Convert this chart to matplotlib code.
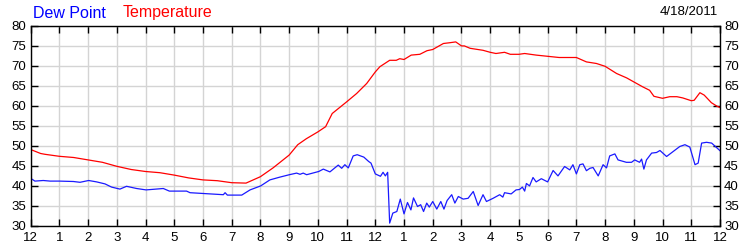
import numpy as np
import matplotlib.pyplot as plt

plt.rcParams['font.family'] = ['Liberation Sans', 'DejaVu Sans']

# hours after midnight, temperature (F)
temp_hours = [0, 0.35, 0.5, 1, 1.5, 2, 2.5, 3, 3.5, 4, 4.5, 5, 5.5, 6, 6.5, 7, 7.5,
              8, 8.44, 9, 9.3, 9.6, 10, 10.27, 10.5, 11, 11.35, 11.7, 12, 12.16,
              12.5, 12.73, 12.85, 13, 13.25, 13.55, 13.8, 14, 14.37, 14.6, 14.8,
              15, 15.1, 15.3, 15.75, 16, 16.2, 16.5, 16.7, 17, 17.2, 17.6, 18,
              18.4, 19, 19.35, 19.7, 20, 20.4, 20.75, 21, 21.3, 21.55, 21.7, 22,
              22.25, 22.5, 22.7, 23, 23.1, 23.3, 23.45, 23.7, 23.9, 24]
temp_vals = [49.0, 48.0, 47.8, 47.3, 47.0, 46.4, 45.8, 44.8, 44.0, 43.5, 43.2, 42.6,
             41.9, 41.4, 41.2, 40.7, 40.6, 42.2, 44.4, 47.6, 50.2, 51.7, 53.4, 54.7,
             58.0, 60.9, 63.0, 65.5, 68.4, 69.7, 71.3, 71.3, 71.7, 71.5, 72.6, 72.8,
             73.7, 74.0, 75.5, 75.7, 75.9, 74.9, 74.9, 74.3, 73.8, 73.3, 73.0, 73.3,
             72.8, 72.8, 73.0, 72.6, 72.3, 72.0, 72.0, 70.9, 70.5, 69.8, 68.0, 66.9,
             65.9, 64.7, 63.8, 62.3, 61.8, 62.2, 62.2, 61.9, 61.2, 61.3, 63.2, 62.6,
             60.7, 59.8, 59.5]

# hours after midnight, dew point (F)
dew_hours = [0, 0.15, 0.44, 0.68, 1.0, 1.49, 1.72, 2.02, 2.3, 2.59, 2.82, 3.11, 3.34,
             3.69, 4.02, 4.39, 4.62, 4.83, 5.43, 5.55, 6.01, 6.48, 6.71, 6.77, 6.85,
             7.35, 7.64, 8.01, 8.33, 8.68, 9.01, 9.26, 9.38, 9.49, 9.61, 10.03, 10.19,
             10.42, 10.71, 10.83, 10.94, 11.06, 11.23, 11.37, 11.6, 11.77, 11.85, 12.0,
             12.18, 12.27, 12.35, 12.43, 12.5, 12.61, 12.75, 12.87, 13.0, 13.12, 13.24,
             13.33, 13.47, 13.58, 13.68, 13.79, 13.88, 14.0, 14.14, 14.28, 14.39, 14.5,
             14.66, 14.77, 14.89, 15.06, 15.23, 15.41, 15.58, 15.75, 15.87, 16.1, 16.33,
             16.44, 16.5, 16.73, 16.9, 17.02, 17.12, 17.2, 17.26, 17.37, 17.49, 17.6,
             17.78, 18.0, 18.19, 18.36, 18.59, 18.77, 18.88, 19.0, 19.12, 19.23, 19.35,
             19.47, 19.58, 19.76, 19.93, 20.05, 20.16, 20.34, 20.45, 20.74, 20.92, 21.03,
             21.2, 21.27, 21.35, 21.44, 21.62, 21.79, 21.91, 22.14, 22.37, 22.6, 22.78,
             22.95, 23.13, 23.24, 23.36, 23.53, 23.71, 24.0]
dew_vals = [41.8, 41.1, 41.25, 41.1, 41.1, 41.0, 40.8, 41.25, 40.9, 40.4, 39.6, 39.1,
            39.8, 39.25, 38.9, 39.1, 39.25, 38.6, 38.6, 38.2, 38.0, 37.8, 37.7, 38.2,
            37.6, 37.6, 38.9, 39.9, 41.4, 42.1, 42.7, 43.1, 42.8, 43.1, 42.7, 43.5, 44.1,
            43.4, 45.1, 44.3, 45.2, 44.4, 47.4, 47.7, 47.1, 46.0, 45.6, 42.9, 42.3, 43.3,
            42.4, 43.3, 30.6, 33.1, 33.5, 36.6, 32.9, 35.75, 33.9, 36.9, 34.75, 35.2,
            33.5, 35.6, 34.6, 36.0, 34.1, 36.0, 34.1, 36.25, 37.7, 35.6, 37.25, 36.6,
            36.8, 38.5, 35.0, 37.7, 36.0, 36.8, 37.7, 37.1, 38.2, 37.9, 38.9, 39.0, 39.6,
            38.6, 40.5, 39.9, 42.0, 40.9, 41.7, 40.9, 43.75, 42.4, 44.75, 43.9, 45.2,
            42.9, 45.2, 45.4, 43.7, 44.3, 44.5, 42.4, 45.2, 44.4, 47.4, 47.9, 46.4, 45.8,
            45.8, 46.4, 45.8, 46.6, 44.1, 46.4, 48.1, 48.25, 48.75, 47.25, 48.5, 49.75,
            50.2, 49.6, 45.2, 45.6, 50.6, 50.8, 50.6, 48.7]

hour_labels = ['12', '1', '2', '3', '4', '5', '6', '7', '8', '9', '10', '11',
               '12', '1', '2', '3', '4', '5', '6', '7', '8', '9', '10', '11', '12']
date_label = '4/18/2011'

fig = plt.figure(figsize=(7.5, 2.5), dpi=100)
ax = fig.add_axes([30.6 / 750, 24.5 / 250, 689.4 / 750, 200 / 250])

ax.plot(temp_hours, temp_vals, color='#ff0000', lw=0.9)
ax.plot(dew_hours, dew_vals, color='#1a1aff', lw=0.9)

ax.set_xlim(0, 24)
ax.set_ylim(30, 80)
ax.set_xticks(np.arange(25))
ax.set_xticklabels(hour_labels)
ax.set_yticks(np.arange(30, 81, 5))
ax.grid(True, color='#d4d4d4', lw=1)
ax.set_axisbelow(True)
ax.tick_params(direction='in', length=5, width=1, labelsize=9.5, colors='black',
               top=True, right=True, labelright=True, pad=3)
ax.tick_params(axis='x', pad=5)
for s in ax.spines.values():
    s.set_color('black')
    s.set_linewidth(1)

fig.text(33 / 750, 1 - 13 / 250, 'Dew Point', color='#0000ff', fontsize=11.5, va='center')
fig.text(123 / 750, 1 - 13 / 250, 'Temperature', color='#ff0000', fontsize=11.5, va='center')
fig.text(718 / 750, 1 - 12 / 250, date_label, color='black', fontsize=9.5,
         va='center', ha='right')

fig.savefig('out.png', dpi=100)
